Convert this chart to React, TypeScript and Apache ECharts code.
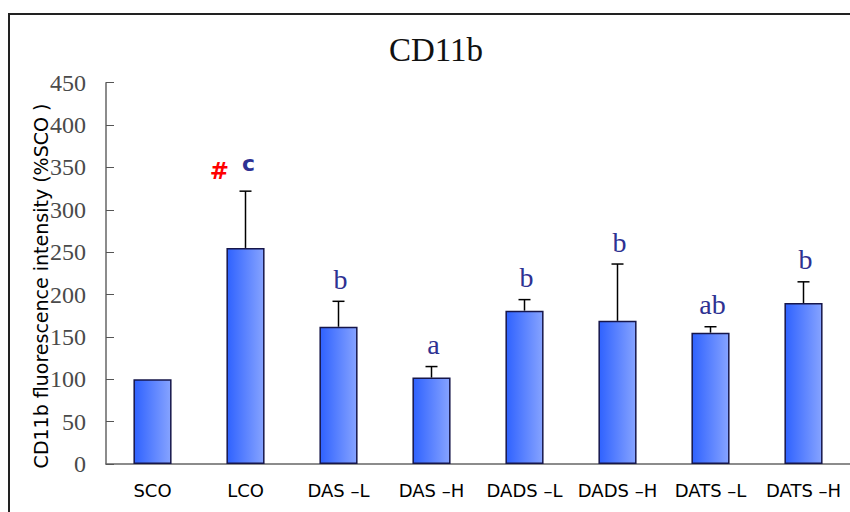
import React, { useEffect, useRef } from "react";
import * as echarts from "echarts";

// Groups and measurements (mean ± SD, % of SCO)
const groups = ["SCO", "LCO", "DAS –L", "DAS –H", "DADS –L", "DADS –H", "DATS –L", "DATS –H"];
const means = [100, 255, 162, 102, 181, 169, 155, 190];
const sds = [0, 67, 30, 13, 13, 67, 7, 25];
// Significance letters and the marker versus SCO
const letters = ["", "c", "b", "a", "b", "b", "ab", "b"];
const marks = ["", "#", "", "", "", "", "", ""];
const yTicks = [0, 50, 100, 150, 200, 250, 300, 350, 400, 450];

const SERIF = "'Liberation Serif', 'DejaVu Serif', serif";
const SANS = "'DejaVu Sans', 'Liberation Sans', sans-serif";

export default function App() {
  const ref = useRef<HTMLDivElement>(null);

  useEffect(() => {
    document.body.style.margin = "0";
    if (!ref.current) return;
    const chart = echarts.init(ref.current, null, { renderer: "svg" });

    const errData = groups.map((_, i) => [i, means[i], sds[i]]);

    chart.setOption({
      animation: false,
      backgroundColor: "#ffffff",
      title: {
        text: "CD11b",
        left: 431,
        top: 28,
        textAlign: "center",
        textStyle: { fontFamily: SERIF, fontSize: 33, fontWeight: "normal", color: "#111" },
      },
      graphic: [
        {
          type: "rect",
          shape: { x: 9, y: 14, width: 900, height: 600 },
          style: { fill: "none", stroke: "#222", lineWidth: 2 },
          silent: true,
        },
        {
          type: "text",
          x: 41,
          y: 286,
          rotation: Math.PI / 2,
          style: {
            text: "CD11b fluorescence intensity (%SCO )",
            font: `19px ${SANS}`,
            fill: "#000",
            align: "center",
            verticalAlign: "middle",
          },
        },
      ],
      grid: { left: 106, right: 0, top: 82.7, bottom: 48 },
      xAxis: {
        type: "category",
        data: groups,
        axisLine: { lineStyle: { color: "#666", width: 1.5 } },
        axisTick: { inside: true, length: 6, lineStyle: { color: "#555", width: 1 } },
        axisLabel: { interval: 0, fontFamily: SANS, fontSize: 18, color: "#000", margin: 17 },
      },
      yAxis: {
        type: "value",
        min: yTicks[0],
        max: yTicks[yTicks.length - 1],
        interval: yTicks[1] - yTicks[0],
        splitLine: { show: false },
        axisLine: { show: true, lineStyle: { color: "#666", width: 1.5 } },
        axisTick: { show: true, inside: true, length: 8, lineStyle: { color: "#555", width: 1 } },
        axisLabel: { fontFamily: SERIF, fontSize: 24, color: "#4a4a4a", margin: 20 },
      },
      series: [
        {
          type: "bar",
          data: means,
          barWidth: "41%",
          itemStyle: {
            color: new echarts.graphic.LinearGradient(0, 0, 1, 0, [
              { offset: 0, color: "#2f62ff" },
              { offset: 1, color: "#86a3ff" },
            ]),
            borderColor: "#16164a",
            borderWidth: 1.5,
          },
        },
        {
          type: "custom",
          data: errData,
          z: 5,
          renderItem: (_params: any, api: any) => {
            const i = api.value(0);
            const m = api.value(1);
            const s = api.value(2);
            const base = api.coord([i, m]);
            const top = api.coord([i, m + s]);
            const children: any[] = [];
            if (s > 0) {
              children.push(
                {
                  type: "line",
                  shape: { x1: base[0], y1: base[1], x2: top[0], y2: top[1] },
                  style: { stroke: "#000", lineWidth: 1.5 },
                },
                {
                  type: "line",
                  shape: { x1: top[0] - 6, y1: top[1], x2: top[0] + 6, y2: top[1] },
                  style: { stroke: "#000", lineWidth: 1.5 },
                }
              );
            }
            const letter = letters[i];
            if (letter) {
              const sans = letter === "c";
              children.push({
                type: "text",
                x: top[0] + (sans ? 3 : 2),
                y: top[1] - (sans ? 17 : 8),
                style: {
                  text: letter,
                  font: sans ? `bold 22px ${SANS}` : `28px ${SERIF}`,
                  fill: "#2e3192",
                  align: "center",
                  verticalAlign: "bottom",
                },
              });
            }
            const mk = marks[i];
            if (mk) {
              children.push({
                type: "text",
                x: top[0] - 26,
                y: top[1] - 9,
                style: {
                  text: mk,
                  font: `bold 23px ${SANS}`,
                  fill: "#ff0000",
                  align: "center",
                  verticalAlign: "bottom",
                },
              });
            }
            return { type: "group", children };
          },
        },
      ],
    });

    return () => chart.dispose();
  }, []);

  return <div ref={ref} style={{ width: 850, height: 512 }} />;
}
